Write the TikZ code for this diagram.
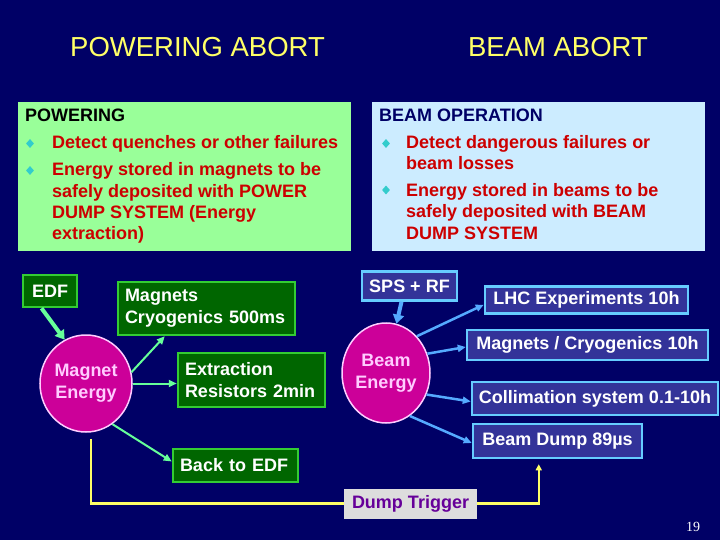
\documentclass[tikz,border=0pt]{standalone}
\usepackage{fontspec}
\setmainfont{Liberation Sans}
\newfontfamily\pagenumfont{Liberation Serif}
\usetikzlibrary{arrows.meta,shapes.geometric,calc}
\definecolor{bg}{HTML}{000066}
\definecolor{ttl}{HTML}{FFFF66}
\definecolor{gpan}{HTML}{99FF99}
\definecolor{bpan}{HTML}{CCECFF}
\definecolor{rtxt}{HTML}{CC0000}
\definecolor{bul}{HTML}{33CCCC}
\definecolor{dgreen}{HTML}{006600}
\definecolor{lgreen}{HTML}{33CC33}
\definecolor{garrow}{HTML}{66FF99}
\definecolor{mag}{HTML}{CC0099}
\definecolor{pinktxt}{HTML}{FFCCFF}
\definecolor{dblue}{HTML}{333399}
\definecolor{lblue}{HTML}{66CCFF}
\definecolor{barrow}{HTML}{55AAFF}
\definecolor{dtfill}{HTML}{DDDDDD}
\definecolor{dttxt}{HTML}{660099}
\definecolor{yline}{HTML}{FFFF66}
\begin{document}
\begin{tikzpicture}[x=1pt,y=-1pt,
  bigfont/.style={font=\bfseries\fontsize{18}{22}\selectfont},
  titletxt/.style={font=\fontsize{27.5}{30}\selectfont, text=ttl, inner sep=0, anchor=base},
  panel/.style={inner sep=0, anchor=north west},
  ptext/.style={bigfont, text=rtxt, inner sep=0, anchor=base west},
  phead/.style={bigfont, inner sep=0, anchor=base west},
  bulletmark/.style={diamond, fill=bul, inner sep=0, minimum width=8pt, minimum height=9pt},
  gbox/.style={draw=lgreen, line width=2.5pt, fill=dgreen, text=white, bigfont, inner xsep=6pt, inner ysep=0pt, align=left},
  bbox/.style={draw=lblue, line width=2.5pt, fill=dblue, text=white, bigfont, inner xsep=2pt, inner ysep=0pt, align=center},
  energy/.style={ellipse, draw=pinktxt, line width=1.5pt, fill=mag, text=pinktxt, bigfont, align=center, inner sep=0},
  garr/.style={draw=garrow, line width=2pt, -{Triangle[length=8pt,width=7pt]}},
  garrthick/.style={draw=garrow, line width=4pt, -{Triangle[length=9pt,width=11pt]}},
  barr/.style={draw=barrow, line width=2.5pt, -{Triangle[length=8pt,width=7pt]}},
  barrthick/.style={draw=barrow, line width=4pt, -{Triangle[length=9pt,width=11pt]}},
]
\fill[bg] (0,0) rectangle (720,540);
\useasboundingbox (0,0) rectangle (720,540);

% titles
\node[titletxt] (t1) at (197.5,57) {POWERING ABORT};
\node[titletxt] (t2) at (558,57) {BEAM ABORT};

% panels
\node[panel, fill=gpan, minimum width=333pt, minimum height=149pt] (gp) at (18,102) {};
\node[panel, fill=bpan, minimum width=333pt, minimum height=149pt] (bp) at (372,102) {};

% green panel text
\node[phead, text=black] (gh) at (25,122) {POWERING};
\node[bulletmark] (gb1) at (30,143.5) {};
\node[bulletmark] (gb2) at (30,170.5) {};
\node[ptext] (g1) at (52,149) {Detect quenches or other failures};
\node[ptext] (g2) at (52,175.5) {Energy stored in magnets to be};
\node[ptext] (g3) at (52,197) {safely deposited with POWER};
\node[ptext] (g4) at (52,218.5) {DUMP SYSTEM (Energy};
\node[ptext] (g5) at (52,240) {extraction)};

% blue panel text
\node[phead, text=bg] (bh) at (379,122) {BEAM OPERATION};
\node[bulletmark] (bb1) at (386,143.5) {};
\node[bulletmark] (bb2) at (386,190) {};
\node[ptext] (b1) at (406,148.5) {Detect dangerous failures or};
\node[ptext] (b2) at (406,170) {beam losses};
\node[ptext] (b3) at (406,196.5) {Energy stored in beams to be};
\node[ptext] (b4) at (406,218) {safely deposited with BEAM};
\node[ptext] (b5) at (406,239.5) {DUMP SYSTEM};

% powering side
\node[gbox, minimum width=54pt, minimum height=32pt] (EDF) at (50,291) {EDF};
\node[gbox, minimum width=177pt, minimum height=53pt, text width=163pt] (MC) at (206.5,308.5) {Magnets\\Cryogenics 500ms};
\node[gbox, minimum width=147pt, minimum height=54pt, text width=133pt] (EX) at (251.5,380) {Extraction\\Resistors 2min};
\node[gbox, minimum width=125pt, minimum height=33pt, text width=111pt] (BE) at (235.5,465.5) {Back to EDF};
\node[energy, minimum width=92pt, minimum height=97pt] (ME) at (86,383.5) {Magnet\\Energy};

% beam side
\node[bbox, minimum width=95pt, minimum height=29pt] (SPS) at (409.5,286) {SPS + RF};
\node[bbox, minimum width=203pt, minimum height=27pt] (LHC) at (586.5,300) {LHC Experiments 10h};
\node[bbox, minimum width=241pt, minimum height=30pt] (MC10) at (587.5,345) {Magnets / Cryogenics 10h};
\node[bbox, minimum width=246pt, minimum height=33pt] (CS) at (595,398.5) {Collimation system 0.1-10h};
\node[bbox, minimum width=169pt, minimum height=34pt] (BD) at (557.5,441) {Beam Dump 89µs};
\node[energy, minimum width=88pt, minimum height=100pt] (BEn) at (386,373) {Beam\\Energy};

% dump trigger
\node[fill=dtfill, text=dttxt, bigfont, minimum width=133pt, minimum height=30pt, inner sep=0] (DT) at (410.5,503.5) {Dump Trigger};

% green arrows
\draw[garrthick] ($(EDF.south west)!0.35!(EDF.south east)$) -- (ME.116);
\draw[garr] (ME.14) -- ($(MC.south west)+(48,0)$);
\draw[garr] (ME.east) -- (ME.east -| EX.west);
\draw[garr] (ME.-57) -- ($(BE.west)+(0,-4)$);

% blue arrows
\draw[barrthick] ($(SPS.south)+(-8,0)$) -- (BEn.78);
\draw[barr] (BEn.50) -- ($(LHC.south west)+(0,-10)$);
\draw[barr] (BEn.25) -- ($(MC10.west)+(0,2)$);
\draw[barr] (BEn.-28) -- ($(CS.west)+(0,3)$);
\draw[barr] (BEn.-61) -- ($(BD.west)+(0,2)$);

% yellow trigger line
\coordinate (ystart) at ($(ME.south)+(5,6)$);
\coordinate (ytip) at ($(BD.south west)+(67,5)$);
\draw[yline, line width=2.5pt] (ystart) -- (ystart |- DT.west) -- (DT.west);
\draw[yline, line width=2.5pt, -{Triangle[length=6pt,width=6pt]}] (DT.east) -| (ytip);

% page number
\node[font=\pagenumfont\fontsize{14}{16}\selectfont, text=white, inner sep=0] (pn) at (693,527) {19};
\end{tikzpicture}
\end{document}
